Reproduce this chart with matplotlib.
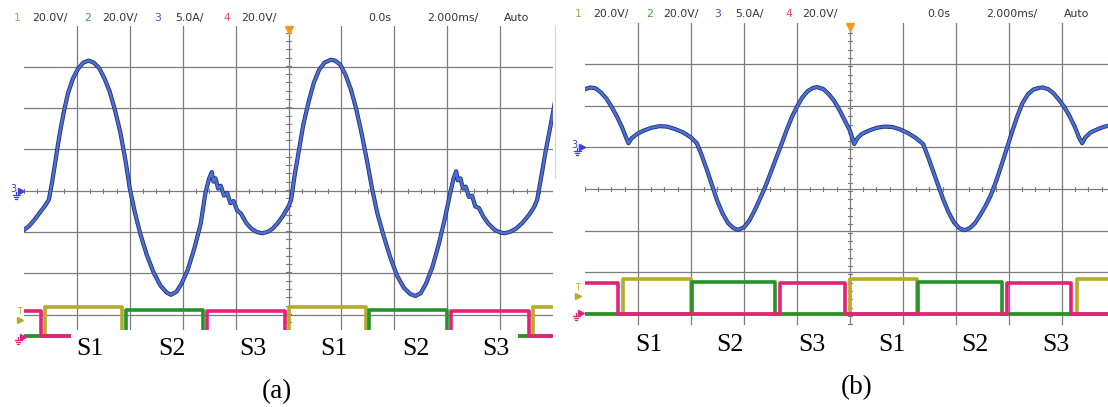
import numpy as np
import matplotlib.pyplot as plt
from matplotlib.patches import Rectangle
from matplotlib.lines import Line2D

W, H = 1108, 407

# ---- channel 3 current trace, panel (a)  (x in div, y in div)
cur_a_x = [-5.00, -4.90, -4.80, -4.70, -4.60, -4.53, -4.47, -4.42, -4.36, -4.30, -4.24, -4.17,
           -4.08, -3.98, -3.88, -3.78, -3.68, -3.58, -3.48, -3.38, -3.28, -3.18, -3.08, -3.00,
           -2.90, -2.80, -2.68, -2.55, -2.42, -2.30, -2.22, -2.12, -2.02, -1.90, -1.78, -1.66,
           -1.57, -1.50, -1.45, -1.42, -1.38, -1.33, -1.28, -1.22, -1.16, -1.10, -1.04, -0.97,
           -0.90, -0.80, -0.70, -0.60, -0.50, -0.40, -0.30, -0.20, -0.10, 0.00, 0.05,
           0.12, 0.20, 0.28, 0.38, 0.48, 0.58, 0.68, 0.80, 0.88, 0.98, 1.08, 1.18, 1.28, 1.38,
           1.48, 1.58, 1.68, 1.80, 1.92, 2.05, 2.18, 2.30, 2.40, 2.50, 2.60, 2.72, 2.84, 2.96,
           3.05, 3.12, 3.17, 3.20, 3.25, 3.30, 3.35, 3.41, 3.47, 3.53, 3.60, 3.68, 3.78, 3.90,
           4.00, 4.08, 4.18, 4.30, 4.42, 4.55, 4.65, 4.70, 4.78, 4.86, 4.95, 5.03]
cur_a_y = [-0.95, -0.85, -0.70, -0.53, -0.36, -0.22, 0.20, 0.60, 1.10, 1.55, 1.95, 2.35,
           2.70, 2.95, 3.10, 3.15, 3.10, 2.97, 2.72, 2.40, 1.95, 1.42, 0.72, 0.05,
           -0.55, -1.05, -1.55, -1.98, -2.30, -2.47, -2.52, -2.45, -2.25, -1.90, -1.40, -0.80,
           -0.05, 0.30, 0.45, 0.22, 0.30, 0.05, 0.12, -0.12, -0.05, -0.30, -0.25, -0.48,
           -0.55, -0.78, -0.92, -1.00, -1.03, -1.00, -0.92, -0.78, -0.60, -0.38, -0.22,
           0.40, 1.00, 1.60, 2.15, 2.62, 2.93, 3.10, 3.17, 3.15, 3.05, 2.80, 2.45, 1.98, 1.40,
           0.75, 0.05, -0.55, -1.10, -1.60, -2.05, -2.35, -2.50, -2.55, -2.48, -2.25, -1.85, -1.30, -0.65,
           -0.10, 0.30, 0.47, 0.25, 0.30, 0.05, 0.10, -0.15, -0.12, -0.38, -0.42, -0.62, -0.80, -0.95,
           -1.01, -1.03, -1.00, -0.92, -0.78, -0.58, -0.38, -0.22, 0.35, 0.95, 1.55, 2.10]

# ---- channel 3 current trace, panel (b)
cur_b_x = [-5.00, -4.90, -4.80, -4.70, -4.60, -4.50, -4.40, -4.30, -4.22, -4.18, -4.12, -4.02,
           -3.90, -3.75, -3.60, -3.45, -3.30, -3.15, -3.00, -2.89, -2.80, -2.70, -2.60, -2.50,
           -2.40, -2.30, -2.20, -2.11, -2.00, -1.90, -1.80, -1.70, -1.60, -1.50, -1.40, -1.30,
           -1.20, -1.10, -1.00, -0.90, -0.80, -0.70, -0.62, -0.50, -0.40, -0.30, -0.20, -0.10,
           0.00, 0.08, 0.14, 0.22, 0.35, 0.50, 0.65, 0.80, 0.95, 1.10, 1.25, 1.38, 1.47, 1.56,
           1.66, 1.76, 1.86, 1.96, 2.06, 2.16, 2.26, 2.36, 2.46, 2.56, 2.66, 2.76, 2.86, 2.96,
           3.06, 3.16, 3.26, 3.36, 3.46, 3.56, 3.64, 3.74, 3.84, 3.94, 4.04, 4.14, 4.24, 4.32,
           4.38, 4.44, 4.54, 4.66, 4.78, 4.87]
cur_b_y = [2.40, 2.44, 2.42, 2.32, 2.18, 1.98, 1.75, 1.48, 1.22, 1.10, 1.22, 1.32,
           1.40, 1.47, 1.51, 1.50, 1.44, 1.36, 1.24, 1.10, 0.82, 0.46, 0.08, -0.30,
           -0.60, -0.82, -0.94, -0.98, -0.92, -0.76, -0.52, -0.24, 0.05, 0.38, 0.72, 1.05,
           1.40, 1.72, 1.98, 2.20, 2.35, 2.43, 2.45, 2.40, 2.28, 2.12, 1.90, 1.65,
           1.40, 1.08, 1.22, 1.32, 1.40, 1.47, 1.50, 1.49, 1.43, 1.34, 1.22, 1.08, 0.78, 0.46,
           0.10, -0.25, -0.56, -0.80, -0.94, -0.99, -0.94, -0.82, -0.62, -0.40, -0.14, 0.20, 0.58, 0.98,
           1.38, 1.76, 2.08, 2.28, 2.39, 2.43, 2.44, 2.40, 2.30, 2.15, 1.98, 1.76, 1.50, 1.24,
           1.10, 1.24, 1.36, 1.43, 1.49, 1.52]

# ---- digital gate signals: switching instants (div) and states
yel_a_t = [-5.0, -4.61, -3.14, 0.00, 1.46, 4.62, 5.0]
yel_a_s = [0, 1, 0, 1, 0, 1, 1]
grn_a_t = [-5.0, -3.07, -1.62, 1.53, 2.99, 5.0]
grn_a_s = [0, 1, 0, 1, 0, 0]
pnk_a_t = [-5.0, -4.68, -1.55, -0.06, 3.08, 4.54, 5.0]
pnk_a_s = [1, 0, 1, 0, 1, 0, 0]

yel_b_t = [-5.0, -4.28, -3.00, 0.00, 1.26, 4.28, 4.87]
yel_b_s = [0, 1, 0, 1, 0, 1, 1]
grn_b_t = [-5.0, -2.98, -1.42, 1.28, 2.87, 4.87]
grn_b_s = [0, 1, 0, 1, 0, 0]
pnk_b_t = [-5.0, -4.38, -1.33, -0.09, 2.97, 4.17, 4.87]
pnk_b_s = [1, 0, 1, 0, 1, 0, 0]

header = ["1", "20.0V/", "2", "20.0V/", "3", "5.0A/", "4", "20.0V/", "0.0s", "2.000ms/", "Auto"]
sectors = ["S1", "S2", "S3", "S1", "S2", "S3"]

C_YEL = "#b5ab26"
C_GRN = "#24932a"
C_PNK = "#e8207a"
C_BLU = "#4a6fd6"
C_GRID = "#7c7c7c"
hdr_cols = ["#b0a848", "#333333", "#3aa03a", "#333333", "#4a4ae8", "#333333",
            "#e8407a", "#333333", "#333333", "#333333", "#333333"]

fig = plt.figure(figsize=(W / 100, H / 100), dpi=100)
fig.patch.set_facecolor("white")


def px(x, y):
    return x / W, 1 - y / H


def make_ax(left, right, top, bottom, xlim, ylim):
    ax = fig.add_axes([left / W, 1 - bottom / H, (right - left) / W, (bottom - top) / H])
    ax.set_xlim(*xlim)
    ax.set_ylim(*ylim)
    ax.axis("off")
    return ax


def draw_grid(ax, x0, x1, ybot):
    for gx in range(-4, 5):
        ax.plot([gx, gx], [ybot, 4], color=C_GRID, lw=0.9, zorder=1)
    for gy in range(-3, 4):
        ax.plot([x0, x1], [gy, gy], color=C_GRID, lw=0.9, zorder=1)
    # small ticks on centre lines
    for tx in np.arange(-5, 5.01, 0.25):
        ax.plot([tx, tx], [-0.05, 0.05], color=C_GRID, lw=0.8, zorder=1)
    for ty in np.arange(ybot, 4.01, 0.2):
        ax.plot([-0.045, 0.045], [ty, ty], color=C_GRID, lw=0.8, zorder=1)
    ax.plot([0], [3.9], marker="v", color="#f29a1c", ms=6, clip_on=False, zorder=5)


def draw_digital(ax, t, s, hi, lo, col, z):
    lev = [lo + v * (hi - lo) for v in s]
    ax.plot(t, lev, drawstyle="steps-post", color=col, lw=2.6, zorder=z, solid_capstyle="butt")


def draw_current(ax, x, y):
    ax.plot(x, y, color="#22306e", lw=3.0, zorder=6, solid_joinstyle="round")
    ax.plot(x, y, color=C_BLU, lw=1.8, zorder=7, solid_joinstyle="round")


def fig_line(xs, ys, col, lw=0.9):
    fx = [x / W for x in xs]
    fy = [1 - y / H for y in ys]
    fig.add_artist(Line2D(fx, fy, color=col, lw=lw))


def ground(x, y, col):
    # small earth symbol drawn from lines, top of stem at (x, y) in pixels
    fig_line([x, x], [y, y + 3], col)
    fig_line([x - 3.5, x + 3.5], [y + 3, y + 3], col)
    fig_line([x - 2.2, x + 2.2], [y + 5, y + 5], col)
    fig_line([x - 1, x + 1], [y + 7, y + 7], col)


def arrow(x, y, col, ms=4.5):
    fig.add_artist(Line2D([x / W], [1 - y / H], marker=">", color=col, ms=ms, lw=0))


# ---------------- panel (a)
ax_a = make_ax(24, 553, 190.7 - 4 * 41.3, 190.7 + 3.95 * 41.3, (-5, 5), (-3.95, 4))
draw_grid(ax_a, -5, 5, -3.38)
draw_digital(ax_a, yel_a_t, yel_a_s, -2.82, -3.53, C_YEL, 3)
draw_digital(ax_a, grn_a_t, grn_a_s, -2.88, -3.53, C_GRN, 3.5)
draw_digital(ax_a, pnk_a_t, pnk_a_s, -2.92, -3.53, C_PNK, 4)
draw_current(ax_a, cur_a_x, cur_a_y)
ax_a.add_patch(Rectangle((-4.12, -3.38), 8.46, -0.7, facecolor="white", edgecolor="none",
                         zorder=8, clip_on=False))
ax_a.plot([5.04, 5.04], [0.3, 4], color="#d5d5d5", lw=0.8, clip_on=False, zorder=1)

# ---------------- panel (b)
ax_b = make_ax(585, 1108, 189 - 4 * 41.6, 189 + 3.95 * 41.6, (-5, 4.868), (-3.95, 4))
draw_grid(ax_b, -5, 4.868, -3.25)
draw_digital(ax_b, yel_b_t, yel_b_s, -2.16, -3.0, C_YEL, 3)
draw_digital(ax_b, grn_b_t, grn_b_s, -2.23, -3.0, C_GRN, 3.5)
draw_digital(ax_b, pnk_b_t, pnk_b_s, -2.25, -3.0, C_PNK, 4)
draw_current(ax_b, cur_b_x, cur_b_y)

# ---------------- header lines
hdr_a_x = [14, 32, 84, 102, 154, 175, 223, 241, 368, 427, 504]
hdr_b_x = [575, 593, 646, 663, 714, 735, 785, 802, 927, 986, 1064]
hdr_font = ["Liberation Sans Narrow", "DejaVu Sans"]
for txt, xa, xb, c in zip(header, hdr_a_x, hdr_b_x, hdr_cols):
    fig.text(*px(xa, 18), txt, color=c, fontsize=7.8, family=hdr_font, va="center", ha="left")
    fig.text(*px(xb, 14), txt, color=c, fontsize=7.8, family=hdr_font, va="center", ha="left")

# ---------------- channel markers at the left edge
C_MARK = "#3c3cf0"
for gx, gy in [(14, 190.7), (575, 147)]:
    fig.text(*px(gx - 1, gy - 2), "3", color=C_MARK, fontsize=7, family=hdr_font,
             va="center", ha="center")
    ground(gx + 2, gy + 1, C_MARK)
    arrow(gx + 7, gy, C_MARK)
for tx, ty, gyy in [(20, 311, 337), (578, 287, 313)]:
    fig.text(*px(tx, ty), "T", color=C_YEL, fontsize=6, family=hdr_font, va="center", ha="center")
    arrow(tx, ty + 9, C_YEL, ms=4)
    ground(tx - 2, gyy, C_PNK)
    arrow(tx + 3, gyy, C_PNK, ms=4)

# ---------------- sector labels and captions
lab_a_x = [90, 172, 253, 334, 416, 496]
lab_b_x = [649, 730, 812, 892, 975, 1056]
serif = ["Liberation Serif", "DejaVu Serif"]
for s, xa, xb in zip(sectors, lab_a_x, lab_b_x):
    fig.text(*px(xa, 349), s, fontsize=18.5, family=serif, va="center", ha="center", zorder=10)
    fig.text(*px(xb, 345), s, fontsize=18.5, family=serif, va="center", ha="center", zorder=10)
fig.text(*px(277, 392), "(a)", fontsize=19.5, family=serif, va="center", ha="center")
fig.text(*px(857, 388), "(b)", fontsize=19.5, family=serif, va="center", ha="center")

fig.savefig("out.png", dpi=100, facecolor="white")
